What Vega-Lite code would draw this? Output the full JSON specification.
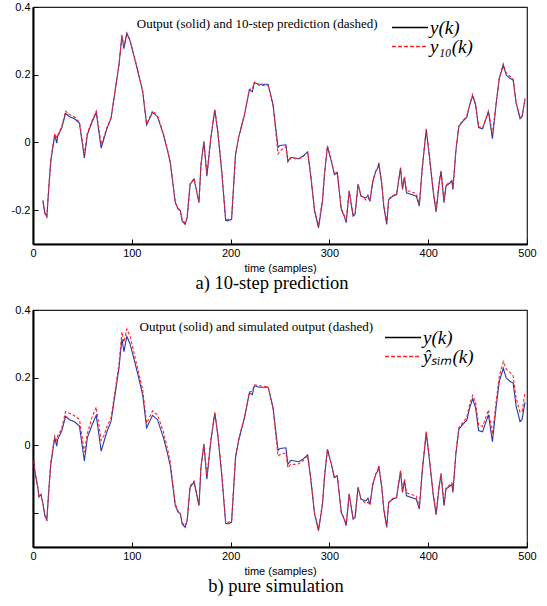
{
 "$schema": "https://vega.github.io/schema/vega-lite/v6.json",
 "padding": {"left": 10, "top": 0, "right": 5, "bottom": 5},
 "background": "white",
 "spacing": 9,
 "datasets": {
  "obs": [{"k":1,"v":-0.05},{"k":2,"v":-0.08},{"k":5,"v":-0.128},{"k":6,"v":-0.152},{"k":8,"v":-0.145},{"k":10,"v":-0.171},{"k":12,"v":-0.208},{"k":14,"v":-0.22},{"k":16,"v":-0.134},{"k":18,"v":-0.056},{"k":22,"v":0.023},{"k":24,"v":-0.002},{"k":25,"v":0.018},{"k":29,"v":0.042},{"k":33,"v":0.086},{"k":37,"v":0.076},{"k":42,"v":0.07},{"k":47,"v":0.057},{"k":52,"v":-0.046},{"k":55,"v":0.023},{"k":60,"v":0.062},{"k":64,"v":0.089},{"k":69,"v":-0.017},{"k":72,"v":0.013},{"k":75,"v":0.042},{"k":79,"v":0.071},{"k":83,"v":0.15},{"k":87,"v":0.228},{"k":90,"v":0.315},{"k":92,"v":0.277},{"k":95,"v":0.322},{"k":98,"v":0.302},{"k":102,"v":0.258},{"k":106,"v":0.211},{"k":111,"v":0.15},{"k":115,"v":0.052},{"k":121,"v":0.089},{"k":126,"v":0.076},{"k":132,"v":0.023},{"k":136,"v":-0.022},{"k":139,"v":-0.061},{"k":144,"v":-0.178},{"k":147,"v":-0.198},{"k":149,"v":-0.201},{"k":151,"v":-0.232},{"k":154,"v":-0.242},{"k":156,"v":-0.223},{"k":159,"v":-0.124},{"k":163,"v":-0.108},{"k":168,"v":-0.178},{"k":170,"v":-0.066},{"k":173,"v":0.003},{"k":176,"v":-0.1},{"k":180,"v":0.013},{"k":184,"v":0.096},{"k":187,"v":0.032},{"k":191,"v":-0.085},{"k":195,"v":-0.23},{"k":197,"v":-0.232},{"k":201,"v":-0.227},{"k":205,"v":-0.036},{"k":208,"v":0.013},{"k":214,"v":0.081},{"k":219,"v":0.155},{"k":222,"v":0.15},{"k":224,"v":0.176},{"k":229,"v":0.172},{"k":238,"v":0.172},{"k":243,"v":0.111},{"k":248,"v":-0.015},{"k":250,"v":-0.009},{"k":256,"v":-0.007},{"k":258,"v":-0.056},{"k":261,"v":-0.044},{"k":265,"v":-0.046},{"k":269,"v":-0.048},{"k":273,"v":-0.041},{"k":278,"v":-0.028},{"k":281,"v":-0.095},{"k":285,"v":-0.203},{"k":289,"v":-0.252},{"k":293,"v":-0.174},{"k":295,"v":-0.095},{"k":298,"v":-0.012},{"k":302,"v":-0.056},{"k":305,"v":-0.095},{"k":308,"v":-0.09},{"k":312,"v":-0.198},{"k":315,"v":-0.218},{"k":317,"v":-0.237},{"k":320,"v":-0.144},{"k":324,"v":-0.218},{"k":326,"v":-0.213},{"k":329,"v":-0.124},{"k":332,"v":-0.159},{"k":337,"v":-0.164},{"k":339,"v":-0.156},{"k":341,"v":-0.174},{"k":344,"v":-0.115},{"k":347,"v":-0.085},{"k":349,"v":-0.076},{"k":350,"v":-0.061},{"k":353,"v":-0.124},{"k":355,"v":-0.188},{"k":358,"v":-0.242},{"k":360,"v":-0.169},{"k":364,"v":-0.159},{"k":368,"v":-0.154},{"k":372,"v":-0.076},{"k":374,"v":-0.139},{"k":376,"v":-0.103},{"k":378,"v":-0.149},{"k":383,"v":-0.154},{"k":388,"v":-0.159},{"k":391,"v":-0.188},{"k":394,"v":-0.076},{"k":398,"v":0.037},{"k":401,"v":-0.036},{"k":405,"v":-0.144},{"k":408,"v":-0.205},{"k":411,"v":-0.124},{"k":413,"v":-0.085},{"k":416,"v":-0.178},{"k":418,"v":-0.129},{"k":422,"v":-0.12},{"k":424,"v":-0.115},{"k":425,"v":-0.139},{"k":428,"v":-0.026},{"k":431,"v":0.047},{"k":435,"v":0.062},{"k":439,"v":0.074},{"k":442,"v":0.111},{"k":445,"v":0.138},{"k":448,"v":0.111},{"k":451,"v":0.044},{"k":455,"v":0.04},{"k":461,"v":0.091},{"k":465,"v":0.011},{"k":469,"v":0.12},{"k":472,"v":0.189},{"k":476,"v":0.228},{"k":479,"v":0.199},{"k":483,"v":0.189},{"k":486,"v":0.184},{"k":489,"v":0.116},{"k":493,"v":0.07},{"k":495,"v":0.076},{"k":498,"v":0.128}],
  "pred": [{"k":10,"v":-0.175},{"k":12,"v":-0.21},{"k":14,"v":-0.218},{"k":16,"v":-0.13},{"k":18,"v":-0.05},{"k":22,"v":0.026},{"k":24,"v":0.015},{"k":25,"v":0.022},{"k":29,"v":0.046},{"k":33,"v":0.093},{"k":37,"v":0.082},{"k":42,"v":0.075},{"k":47,"v":0.06},{"k":52,"v":-0.035},{"k":55,"v":0.028},{"k":60,"v":0.066},{"k":64,"v":0.092},{"k":69,"v":-0.005},{"k":72,"v":0.018},{"k":75,"v":0.045},{"k":79,"v":0.074},{"k":83,"v":0.152},{"k":87,"v":0.23},{"k":90,"v":0.318},{"k":92,"v":0.285},{"k":95,"v":0.323},{"k":98,"v":0.304},{"k":102,"v":0.26},{"k":106,"v":0.214},{"k":111,"v":0.152},{"k":115,"v":0.055},{"k":121,"v":0.093},{"k":126,"v":0.08},{"k":132,"v":0.026},{"k":136,"v":-0.02},{"k":139,"v":-0.058},{"k":144,"v":-0.175},{"k":147,"v":-0.196},{"k":149,"v":-0.2},{"k":151,"v":-0.228},{"k":154,"v":-0.238},{"k":156,"v":-0.222},{"k":159,"v":-0.122},{"k":163,"v":-0.106},{"k":168,"v":-0.176},{"k":170,"v":-0.064},{"k":173,"v":0.0},{"k":176,"v":-0.092},{"k":180,"v":0.015},{"k":184,"v":0.098},{"k":187,"v":0.035},{"k":191,"v":-0.082},{"k":195,"v":-0.226},{"k":197,"v":-0.228},{"k":201,"v":-0.225},{"k":205,"v":-0.034},{"k":208,"v":0.015},{"k":214,"v":0.083},{"k":219,"v":0.157},{"k":222,"v":0.158},{"k":224,"v":0.178},{"k":229,"v":0.168},{"k":238,"v":0.168},{"k":243,"v":0.108},{"k":248,"v":-0.034},{"k":250,"v":-0.025},{"k":256,"v":-0.012},{"k":258,"v":-0.058},{"k":261,"v":-0.046},{"k":265,"v":-0.048},{"k":269,"v":-0.049},{"k":273,"v":-0.043},{"k":278,"v":-0.03},{"k":281,"v":-0.093},{"k":285,"v":-0.2},{"k":289,"v":-0.245},{"k":293,"v":-0.17},{"k":295,"v":-0.093},{"k":298,"v":-0.01},{"k":302,"v":-0.053},{"k":305,"v":-0.092},{"k":308,"v":-0.088},{"k":312,"v":-0.195},{"k":315,"v":-0.215},{"k":317,"v":-0.232},{"k":320,"v":-0.142},{"k":324,"v":-0.212},{"k":326,"v":-0.21},{"k":329,"v":-0.122},{"k":332,"v":-0.157},{"k":337,"v":-0.17},{"k":339,"v":-0.165},{"k":341,"v":-0.17},{"k":344,"v":-0.112},{"k":347,"v":-0.083},{"k":349,"v":-0.075},{"k":350,"v":-0.06},{"k":353,"v":-0.12},{"k":355,"v":-0.185},{"k":358,"v":-0.236},{"k":360,"v":-0.167},{"k":364,"v":-0.157},{"k":368,"v":-0.152},{"k":372,"v":-0.074},{"k":374,"v":-0.136},{"k":376,"v":-0.1},{"k":378,"v":-0.142},{"k":383,"v":-0.146},{"k":388,"v":-0.152},{"k":391,"v":-0.184},{"k":394,"v":-0.072},{"k":398,"v":0.04},{"k":401,"v":-0.034},{"k":405,"v":-0.14},{"k":408,"v":-0.2},{"k":411,"v":-0.12},{"k":413,"v":-0.083},{"k":416,"v":-0.172},{"k":418,"v":-0.126},{"k":422,"v":-0.117},{"k":424,"v":-0.112},{"k":425,"v":-0.135},{"k":428,"v":-0.024},{"k":431,"v":0.05},{"k":435,"v":0.064},{"k":439,"v":0.077},{"k":442,"v":0.113},{"k":445,"v":0.142},{"k":448,"v":0.113},{"k":451,"v":0.047},{"k":455,"v":0.043},{"k":461,"v":0.093},{"k":465,"v":0.025},{"k":469,"v":0.122},{"k":472,"v":0.192},{"k":476,"v":0.232},{"k":479,"v":0.205},{"k":483,"v":0.195},{"k":486,"v":0.187},{"k":489,"v":0.118},{"k":493,"v":0.073},{"k":495,"v":0.078},{"k":498,"v":0.13}],
  "sim": [{"k":1,"v":-0.045},{"k":2,"v":-0.075},{"k":5,"v":-0.125},{"k":6,"v":-0.15},{"k":8,"v":-0.142},{"k":10,"v":-0.17},{"k":12,"v":-0.205},{"k":14,"v":-0.222},{"k":16,"v":-0.13},{"k":18,"v":-0.05},{"k":22,"v":0.028},{"k":24,"v":0.015},{"k":25,"v":0.028},{"k":29,"v":0.05},{"k":33,"v":0.1},{"k":37,"v":0.095},{"k":42,"v":0.088},{"k":47,"v":0.077},{"k":52,"v":-0.02},{"k":55,"v":0.035},{"k":60,"v":0.085},{"k":64,"v":0.113},{"k":69,"v":0.015},{"k":72,"v":0.03},{"k":75,"v":0.057},{"k":79,"v":0.082},{"k":83,"v":0.16},{"k":87,"v":0.24},{"k":90,"v":0.335},{"k":92,"v":0.305},{"k":95,"v":0.344},{"k":98,"v":0.325},{"k":102,"v":0.276},{"k":106,"v":0.226},{"k":111,"v":0.165},{"k":115,"v":0.066},{"k":121,"v":0.102},{"k":126,"v":0.09},{"k":132,"v":0.04},{"k":136,"v":-0.008},{"k":139,"v":-0.05},{"k":144,"v":-0.172},{"k":147,"v":-0.195},{"k":149,"v":-0.198},{"k":151,"v":-0.228},{"k":154,"v":-0.238},{"k":156,"v":-0.22},{"k":159,"v":-0.12},{"k":163,"v":-0.105},{"k":168,"v":-0.175},{"k":170,"v":-0.062},{"k":173,"v":0.005},{"k":176,"v":-0.09},{"k":180,"v":0.016},{"k":184,"v":0.098},{"k":187,"v":0.035},{"k":191,"v":-0.08},{"k":195,"v":-0.225},{"k":197,"v":-0.228},{"k":201,"v":-0.224},{"k":205,"v":-0.032},{"k":208,"v":0.016},{"k":214,"v":0.084},{"k":219,"v":0.158},{"k":222,"v":0.16},{"k":224,"v":0.179},{"k":229,"v":0.176},{"k":238,"v":0.174},{"k":243,"v":0.108},{"k":248,"v":-0.032},{"k":250,"v":-0.027},{"k":256,"v":-0.022},{"k":258,"v":-0.066},{"k":261,"v":-0.055},{"k":265,"v":-0.056},{"k":269,"v":-0.054},{"k":273,"v":-0.046},{"k":278,"v":-0.03},{"k":281,"v":-0.095},{"k":285,"v":-0.2},{"k":289,"v":-0.247},{"k":293,"v":-0.17},{"k":295,"v":-0.092},{"k":298,"v":-0.01},{"k":302,"v":-0.055},{"k":305,"v":-0.094},{"k":308,"v":-0.09},{"k":312,"v":-0.197},{"k":315,"v":-0.216},{"k":317,"v":-0.235},{"k":320,"v":-0.142},{"k":324,"v":-0.214},{"k":326,"v":-0.211},{"k":329,"v":-0.123},{"k":332,"v":-0.158},{"k":337,"v":-0.172},{"k":339,"v":-0.168},{"k":341,"v":-0.176},{"k":344,"v":-0.113},{"k":347,"v":-0.083},{"k":349,"v":-0.074},{"k":350,"v":-0.06},{"k":353,"v":-0.12},{"k":355,"v":-0.186},{"k":358,"v":-0.24},{"k":360,"v":-0.167},{"k":364,"v":-0.157},{"k":368,"v":-0.152},{"k":372,"v":-0.074},{"k":374,"v":-0.136},{"k":376,"v":-0.1},{"k":378,"v":-0.14},{"k":383,"v":-0.145},{"k":388,"v":-0.15},{"k":391,"v":-0.183},{"k":394,"v":-0.07},{"k":398,"v":0.042},{"k":401,"v":-0.032},{"k":405,"v":-0.14},{"k":408,"v":-0.2},{"k":411,"v":-0.12},{"k":413,"v":-0.082},{"k":416,"v":-0.172},{"k":418,"v":-0.126},{"k":422,"v":-0.116},{"k":424,"v":-0.11},{"k":425,"v":-0.133},{"k":428,"v":-0.02},{"k":431,"v":0.052},{"k":435,"v":0.068},{"k":439,"v":0.082},{"k":442,"v":0.122},{"k":445,"v":0.148},{"k":448,"v":0.125},{"k":451,"v":0.06},{"k":455,"v":0.056},{"k":461,"v":0.105},{"k":465,"v":0.033},{"k":469,"v":0.135},{"k":472,"v":0.205},{"k":476,"v":0.248},{"k":479,"v":0.225},{"k":483,"v":0.215},{"k":486,"v":0.205},{"k":489,"v":0.14},{"k":493,"v":0.098},{"k":495,"v":0.1},{"k":498,"v":0.155}]
 },
 "vconcat": [
  {
   "width": 494, "height": 237,
   "title": {"text": "a) 10-step prediction", "orient": "bottom", "font": "Liberation Serif", "fontSize": 18.5, "fontWeight": "normal", "color": "black", "offset": 1, "dx": -8},
   "layer": [
    {
     "data": {"name": "obs"},
     "transform": [{"filter": "datum.k >= 10"}],
     "mark": {"type": "line", "strokeWidth": 1.1, "color": "#2b36a8"},
     "encoding": {
      "x": {"field": "k", "type": "quantitative", "scale": {"domain": [0, 500], "nice": false}, "axis": {"values": [0, 100, 200, 300, 400, 500], "title": "time (samples)"}},
      "y": {"field": "v", "type": "quantitative", "scale": {"domain": [-0.3, 0.4], "nice": false, "zero": false}, "axis": {"values": [-0.2, 0, 0.2, 0.4], "title": null, "labelExpr": "datum.value == 0 ? '0' : (datum.value < 0 ? '-' : '') + format(abs(datum.value), '.1f')"}}
     }
    },
    {
     "data": {"name": "pred"},
     "mark": {"type": "line", "strokeWidth": 1.1, "strokeDash": [3, 2], "color": "#ff2020"},
     "encoding": {
      "x": {"field": "k", "type": "quantitative"},
      "y": {"field": "v", "type": "quantitative"}
     }
    },
    {
     "data": {"values": []},
     "mark": {"type": "line"},
     "encoding": {
      "x": {"field": "k", "type": "quantitative"},
      "y": {"field": "v", "type": "quantitative"},
      "color": {"field": "s", "type": "nominal", "scale": {"domain": ["y(k)", "y₁₀(k)"], "range": ["black", "#ff2020"]},
       "legend": {"orient": "none", "legendX": 358, "legendY": 12, "title": null}},
      "strokeDash": {"field": "s", "type": "nominal", "scale": {"domain": ["y(k)", "y₁₀(k)"], "range": [[1, 0], [4, 2]]},
       "legend": {"orient": "none", "legendX": 358, "legendY": 12, "title": null}}
     }
    },
    {
     "data": {"values": [{"note": "Output (solid) and 10-step prediction (dashed)"}]},
     "mark": {"type": "text", "font": "Liberation Serif", "fontSize": 13, "color": "black"},
     "encoding": {
      "x": {"datum": 227, "type": "quantitative"},
      "y": {"datum": 0.35, "type": "quantitative"},
      "text": {"field": "note"}
     }
    }
   ]
  },
  {
   "width": 494, "height": 237,
   "title": {"text": "b) pure simulation", "orient": "bottom", "font": "Liberation Serif", "fontSize": 18.5, "fontWeight": "normal", "color": "black", "offset": 1, "dx": -4},
   "layer": [
    {
     "data": {"name": "obs"},
     "mark": {"type": "line", "strokeWidth": 1.1, "color": "#2b36a8"},
     "encoding": {
      "x": {"field": "k", "type": "quantitative", "scale": {"domain": [0, 500], "nice": false}, "axis": {"values": [0, 100, 200, 300, 400, 500], "title": "time (samples)"}},
      "y": {"field": "v", "type": "quantitative", "scale": {"domain": [-0.3, 0.4], "nice": false, "zero": false}, "axis": {"values": [-0.2, 0, 0.2, 0.4], "title": null, "labelExpr": "datum.value < -0.1 ? '' : datum.value == 0 ? '0' : format(datum.value, '.1f')"}}
     }
    },
    {
     "data": {"name": "sim"},
     "mark": {"type": "line", "strokeWidth": 1.1, "strokeDash": [3, 2], "color": "#ff2020"},
     "encoding": {
      "x": {"field": "k", "type": "quantitative"},
      "y": {"field": "v", "type": "quantitative"}
     }
    },
    {
     "data": {"values": []},
     "mark": {"type": "line"},
     "encoding": {
      "x": {"field": "k", "type": "quantitative"},
      "y": {"field": "v", "type": "quantitative"},
      "color": {"field": "s", "type": "nominal", "scale": {"domain": ["y(k)", "ŷₛᵢₘ(k)"], "range": ["black", "#ff2020"]},
       "legend": {"orient": "none", "legendX": 351, "legendY": 19, "title": null}},
      "strokeDash": {"field": "s", "type": "nominal", "scale": {"domain": ["y(k)", "ŷₛᵢₘ(k)"], "range": [[1, 0], [4, 2]]},
       "legend": {"orient": "none", "legendX": 351, "legendY": 19, "title": null}}
     }
    },
    {
     "data": {"values": [{"note": "Output (solid) and simulated output (dashed)"}]},
     "mark": {"type": "text", "font": "Liberation Serif", "fontSize": 13, "color": "black"},
     "encoding": {
      "x": {"datum": 226, "type": "quantitative"},
      "y": {"datum": 0.35, "type": "quantitative"},
      "text": {"field": "note"}
     }
    }
   ]
  }
 ],
 "resolve": {"scale": {"color": "independent", "strokeDash": "independent"}, "legend": {"color": "independent", "strokeDash": "independent"}},
 "config": {
  "font": "Liberation Sans",
  "view": {"stroke": "#222", "strokeWidth": 1.2},
  "axis": {"labelFont": "Liberation Sans", "labelFontSize": 11, "labelColor": "black", "labelFlush": false, "domainColor": "black", "domainWidth": 2, "tickColor": "black", "tickSize": -5, "labelPadding": 8, "grid": false, "titleFont": "Liberation Sans", "titleFontSize": 11, "titleFontWeight": "normal", "titleColor": "black", "titlePadding": 4},
  "legend": {"symbolType": "stroke", "symbolSize": 1300, "symbolStrokeWidth": 1.6, "clipHeight": 17, "labelFont": "Liberation Serif", "labelFontStyle": "italic", "labelFontSize": 19, "labelColor": "black", "labelOffset": 1, "rowPadding": -4, "padding": 0}
 }
}
